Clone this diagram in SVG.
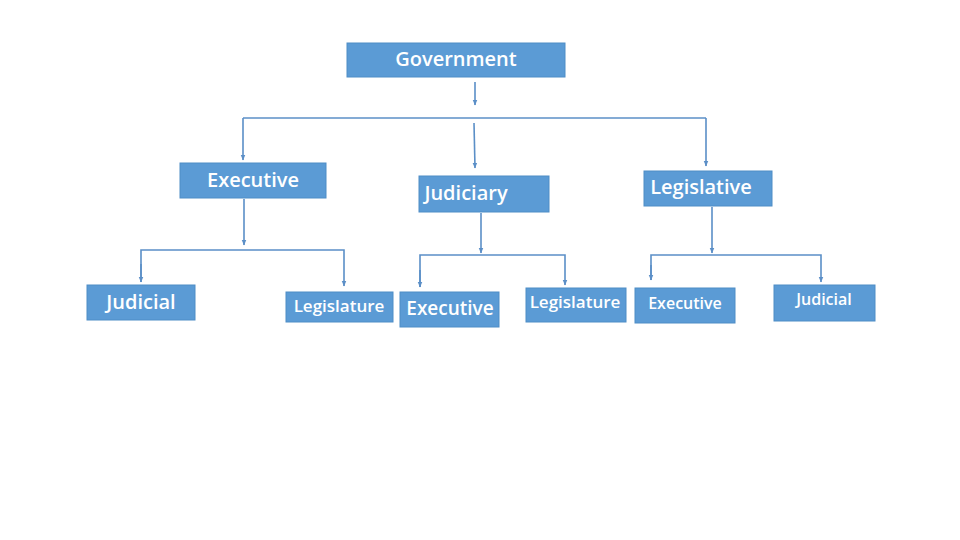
<svg xmlns="http://www.w3.org/2000/svg" width="960" height="540" viewBox="0 0 960 540">
<defs>
<style>
.box{fill:#5B9BD5;stroke:#4F8DC6;stroke-width:1}
.t{fill:#ffffff;font-family:"Open Sans","Noto Sans",sans-serif;font-weight:600;text-anchor:middle}
.c{fill:none;stroke:#5B8FC7;stroke-width:1.6}
</style>
<marker id="ah" viewBox="0 0 10 10" refX="9" refY="5" markerWidth="6" markerHeight="6" orient="auto" markerUnits="userSpaceOnUse">
<path d="M0,1 L10,5 L0,9 z" fill="#5B8FC7"/>
</marker>
</defs>
<rect width="960" height="540" fill="#ffffff"/>
<g id="connectors">
<path class="c" d="M475,82 L475,105" marker-end="url(#ah)"/>
<path class="c" d="M243,118 L706,118"/>
<path class="c" d="M243,118 L243,160" marker-end="url(#ah)"/>
<path class="c" d="M706,118 L706,166" marker-end="url(#ah)"/>
<path class="c" d="M474,123 L475,168" marker-end="url(#ah)"/>
<path class="c" d="M244,199 L244,245" marker-end="url(#ah)"/>
<path class="c" d="M141,282 L141,250 L344,250 L344,286" marker-end="url(#ah)"/>
<path class="c" d="M141,264 L141,282" marker-end="url(#ah)"/>
<path class="c" d="M481,213 L481,253" marker-end="url(#ah)"/>
<path class="c" d="M420,287 L420,255 L565,255 L565,285" marker-end="url(#ah)"/>
<path class="c" d="M420,270 L420,287" marker-end="url(#ah)"/>
<path class="c" d="M712,207 L712,253" marker-end="url(#ah)"/>
<path class="c" d="M651,280 L651,255 L821,255 L821,282" marker-end="url(#ah)"/>
<path class="c" d="M651,265 L651,280" marker-end="url(#ah)"/>
</g>
<g id="government"><rect class="box" x="347" y="43" width="218" height="34"/><text class="t" x="456" y="66" font-size="20">Government</text></g>
<g id="executive"><rect class="box" x="180" y="163" width="146" height="35"/><text class="t" x="253" y="187" font-size="20">Executive</text></g>
<g id="judiciary"><rect class="box" x="419" y="176" width="130" height="36"/><text class="t" x="466" y="200" font-size="20">Judiciary</text></g>
<g id="legislative"><rect class="box" x="644" y="171" width="128" height="35"/><text class="t" x="701" y="194" font-size="20">Legislative</text></g>
<g id="judicial-1"><rect class="box" x="87" y="285" width="108" height="35"/><text class="t" x="141" y="309" font-size="20">Judicial</text></g>
<g id="legislature-1"><rect class="box" x="286" y="292" width="107" height="30"/><text class="t" x="339" y="312" font-size="17">Legislature</text></g>
<g id="executive-2"><rect class="box" x="400" y="292" width="99" height="35"/><text class="t" x="450" y="315" font-size="19">Executive</text></g>
<g id="legislature-2"><rect class="box" x="526" y="288" width="100" height="34"/><text class="t" x="575" y="308" font-size="17">Legislature</text></g>
<g id="executive-3"><rect class="box" x="635" y="288" width="100" height="35"/><text class="t" x="685" y="309" font-size="16">Executive</text></g>
<g id="judicial-2"><rect class="box" x="774" y="285" width="101" height="36"/><text class="t" x="824" y="305" font-size="16">Judicial</text></g>
</svg>
